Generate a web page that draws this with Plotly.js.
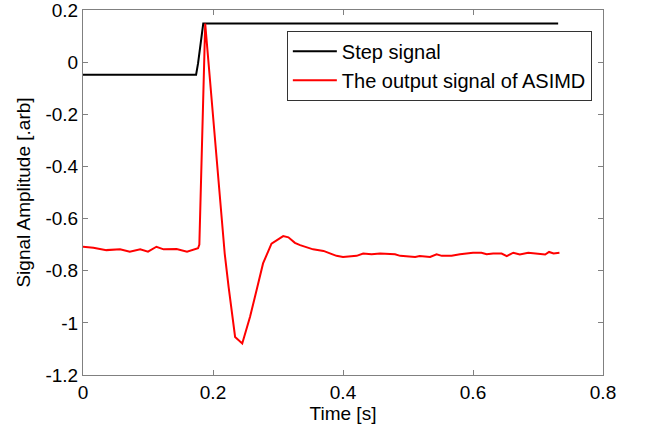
<!DOCTYPE html>
<html>
<head>
<meta charset="utf-8">
<script src="https://cdn.plot.ly/plotly-3.0.1.min.js"></script>
<style>html,body{margin:0;padding:0;background:#fff;}#chart{width:648px;height:430px;}</style>
</head>
<body>
<div id="chart"></div>
<script>
// Step signal
var stepTime = [0, 0.174, 0.177, 0.180, 0.183, 0.185, 0.731];
var stepAmp  = [-0.048, -0.048, -0.005, 0.046, 0.110, 0.148, 0.148];

// Output signal of ASIMD
var outTime = [0.000, 0.016, 0.036, 0.057, 0.072, 0.088, 0.100, 0.113, 0.124, 0.144, 0.160, 0.172, 0.177,
  0.179, 0.183, 0.188, 0.198, 0.208, 0.213, 0.218, 0.224, 0.234, 0.245, 0.257, 0.267, 0.277, 0.290, 0.308, 0.316,
  0.326, 0.334, 0.354, 0.370, 0.390, 0.400, 0.421, 0.431, 0.444, 0.457, 0.480, 0.488, 0.511, 0.518, 0.534,
  0.544, 0.552, 0.567, 0.580, 0.600, 0.613, 0.621, 0.631, 0.644, 0.652, 0.662, 0.672, 0.685, 0.703, 0.711,
  0.717, 0.724, 0.733];
var outAmp = [-0.708, -0.712, -0.721, -0.718, -0.727, -0.718, -0.727, -0.708, -0.718, -0.717, -0.727, -0.718, -0.714,
  -0.700, -0.337, 0.148, -0.146, -0.452, -0.606, -0.734, -0.862, -1.054, -1.079, -0.977, -0.875, -0.772, -0.696, -0.667, -0.672,
  -0.693, -0.702, -0.718, -0.724, -0.743, -0.747, -0.743, -0.734, -0.737, -0.734, -0.737, -0.743, -0.747, -0.744, -0.747,
  -0.737, -0.743, -0.743, -0.737, -0.731, -0.731, -0.737, -0.734, -0.734, -0.744, -0.731, -0.738, -0.731, -0.737, -0.738,
  -0.728, -0.734, -0.731];

var xTickVals = [0, 0.2, 0.4, 0.6, 0.8];
var xTickText = ['0', '0.2', '0.4', '0.6', '0.8'];
var yTickVals = [-1.2, -1, -0.8, -0.6, -0.4, -0.2, 0, 0.2];
var yTickText = ['-1.2', '-1', '-0.8', '-0.6', '-0.4', '-0.2', '0', '0.2'];

var fontFam = 'Liberation Sans, Arial, sans-serif';

var traces = [
  {x: stepTime, y: stepAmp, type: 'scatter', mode: 'lines', name: 'Step signal',
   line: {color: '#000000', width: 2}},
  {x: outTime, y: outAmp, type: 'scatter', mode: 'lines', name: 'The output signal of ASIMD',
   line: {color: '#ff0000', width: 2}}
];

var axisCommon = {
  showline: true, linecolor: '#808080', linewidth: 1, mirror: 'ticks',
  ticks: 'inside', ticklen: 5, tickcolor: '#808080', showgrid: false, zeroline: false,
  ticklabeloverflow: 'allow',
  tickfont: {family: fontFam, size: 19, color: '#000'}
};

var layout = {
  width: 648, height: 430,
  margin: {l: 83, r: 45, t: 10, b: 55},
  paper_bgcolor: '#fff', plot_bgcolor: '#fff',
  font: {family: fontFam, size: 19, color: '#000'},
  xaxis: Object.assign({}, axisCommon, {
    range: [0, 0.8], tickvals: xTickVals, ticktext: xTickText,
    title: {text: 'Time [s]', font: {family: fontFam, size: 19}, standoff: 0}
  }),
  yaxis: Object.assign({}, axisCommon, {
    range: [-1.2, 0.2], tickvals: yTickVals, ticktext: yTickText,
    title: {text: 'Signal Amplitude [.arb]', font: {family: fontFam, size: 19}, standoff: 9}
  }),
  showlegend: true,
  legend: {x: 0.392, y: 0.943, xanchor: 'left', yanchor: 'top',
    bordercolor: '#333', borderwidth: 1, bgcolor: '#fff',
    font: {family: fontFam, size: 20, color: '#000'}, itemwidth: 44, tracegroupgap: 0}
};

Plotly.newPlot('chart', traces, layout, {displayModeBar: false, staticPlot: true});
</script>
</body>
</html>
